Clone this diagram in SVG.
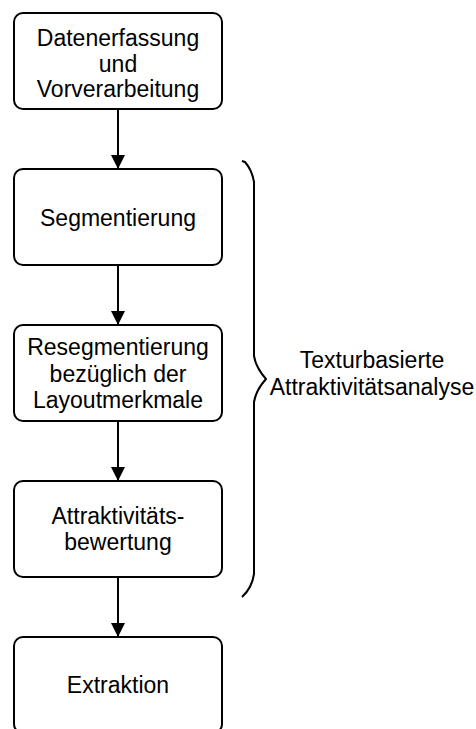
<svg xmlns="http://www.w3.org/2000/svg" width="476" height="729" viewBox="0 0 476 729">
  <style>
    .box { fill: #ffffff; stroke: #000000; stroke-width: 2; }
    .lbl { font-family: "Liberation Sans", Arial, sans-serif; font-size: 23px; fill: #000000; text-anchor: middle; }
    .edge { stroke: #000000; stroke-width: 2; fill: none; }
    .brace { stroke: #000000; stroke-width: 2; fill: none; stroke-linejoin: round; }
  </style>
  <defs>
    <marker id="arrow" markerWidth="14" markerHeight="14" refX="14" refY="7" orient="auto" markerUnits="userSpaceOnUse">
      <path d="M0,0 L14,7 L0,14 Z" fill="#000000"/>
    </marker>
  </defs>
  <rect width="476" height="729" fill="#ffffff"/>

  <g id="connectors">
    <line class="edge" x1="118" y1="109" x2="118" y2="169" marker-end="url(#arrow)"/>
    <line class="edge" x1="118" y1="265" x2="118" y2="325" marker-end="url(#arrow)"/>
    <line class="edge" x1="118" y1="421" x2="118" y2="481" marker-end="url(#arrow)"/>
    <line class="edge" x1="118" y1="577" x2="118" y2="637" marker-end="url(#arrow)"/>
  </g>

  <g id="datenerfassung">
    <rect class="box" x="14" y="13" width="208" height="96" rx="9" ry="9"/>
    <text class="lbl" x="118" y="46">Datenerfassung</text>
    <text class="lbl" x="118" y="71.5">und</text>
    <text class="lbl" x="118" y="97">Vorverarbeitung</text>
  </g>

  <g id="segmentierung">
    <rect class="box" x="14" y="169" width="208" height="96" rx="9" ry="9"/>
    <text class="lbl" x="118" y="226">Segmentierung</text>
  </g>

  <g id="resegmentierung">
    <rect class="box" x="14" y="325" width="208" height="96" rx="9" ry="9"/>
    <text class="lbl" x="118" y="355">Resegmentierung</text>
    <text class="lbl" x="118" y="382">bezüglich der</text>
    <text class="lbl" x="118" y="408">Layoutmerkmale</text>
  </g>

  <g id="bewertung">
    <rect class="box" x="14" y="481" width="208" height="96" rx="9" ry="9"/>
    <text class="lbl" x="118" y="523.5">Attraktivitäts-</text>
    <text class="lbl" x="118" y="550">bewertung</text>
  </g>

  <g id="extraktion">
    <rect class="box" x="14" y="637" width="208" height="96" rx="9" ry="9"/>
    <text class="lbl" x="118" y="693">Extraktion</text>
  </g>

  <g id="analyse">
    <path class="brace" d="M242,161 L245,162 Q252,170 254,182 L254,356 Q256,368 266,379 Q256,390 254,402 L254,574 Q252,588 242,597"/>
    <text class="lbl" x="372" y="368">Texturbasierte</text>
    <text class="lbl" x="372" y="395">Attraktivitätsanalyse</text>
  </g>
</svg>
